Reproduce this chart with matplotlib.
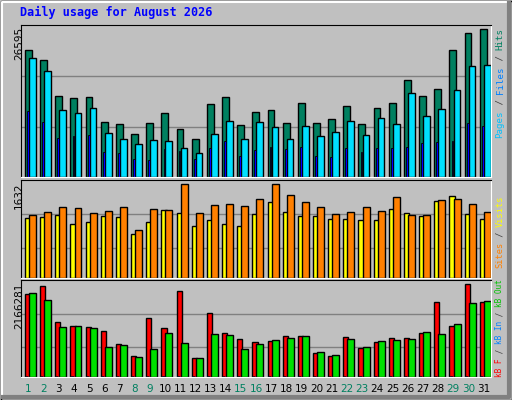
import numpy as np
import matplotlib
matplotlib.use("Agg")
import matplotlib.pyplot as plt
from matplotlib.patches import Rectangle

days = list(range(1, 32))
weekend = [1, 2, 8, 9, 15, 16, 22, 23, 29, 30]
# values read in pixel units, scaled to the labelled maxima
hits_px = [126,116,80,78,79,55,53,43,54,64,48,38,73,79,52,65,67,54,74,54,58,71,53,69,74,96,80,87,126,143,147]
files_px = [118,105,67,64,69,44,38,33,37,36,29,24,43,56,38,55,50,38,51,41,45,56,42,59,53,83,61,68,86,110,111]
pages_px = [66,55,39,41,42,25,24,18,17,28,26,18,29,36,21,27,30,28,30,21,20,29,25,29,29,30,34,35,36,54,51]
visits_px = [178,181,187,160,166,184,181,130,166,202,193,154,172,160,154,190,226,196,184,184,175,175,172,172,205,193,184,229,244,190,175]
sites_px = [187,196,211,208,193,199,211,142,205,202,277,193,217,220,214,235,277,247,226,211,190,196,211,199,241,187,187,232,235,220,196]
kbf_px = [247,268,163,151,148,136,97,61,175,145,253,55,190,130,112,103,106,121,121,70,61,118,85,103,115,115,130,223,151,274,223]
kbout_px = [250,229,148,151,145,88,94,58,82,130,100,55,127,124,82,97,109,115,121,73,64,112,88,106,109,112,133,127,157,220,226]
max_hits, max_visits, max_kb = 26595, 1632, 2166281

k1 = max_hits / 147.0
k2 = max_visits / 277.0
k3 = max_kb / 274.0
hits = np.array(hits_px) * k1
files = np.array(files_px) * k1
pages = np.array(pages_px) * k1
visits = np.array(visits_px) * k2
sites = np.array(sites_px) * k2
kbf = np.array(kbf_px) * k3
kbout = np.array(kbout_px) * k3
kbin = np.array([2] * 31) * k3

BG = "#C0C0C0"
fig = plt.figure(figsize=(5.12, 4.0), dpi=100, facecolor=BG)
W, H = 512, 400

def px_axes(x0, y0, x1, y1):
    return fig.add_axes([x0 / W, 1 - y1 / H, (x1 - x0) / W, (y1 - y0) / H])

def style(ax, ytop, grids):
    ax.set_facecolor(BG)
    ax.set_xlim(0, 31)
    ax.set_ylim(0, ytop)
    ax.set_xticks([]); ax.set_yticks([])
    for g in grids:
        ax.axhline(g, color="#808080", lw=1, zorder=0)
    ax.spines["left"].set_color("black")
    ax.spines["top"].set_color("black")
    ax.spines["right"].set_color("white")
    ax.spines["bottom"].set_color("white")

x = np.arange(31)
ax1 = px_axes(21, 25, 491, 177)
style(ax1, 151 * k1, [50 * k1, 100 * k1])
ax1.bar(x + 0.26, hits, 0.45, align="edge", color="#008060", edgecolor="black", lw=1)
ax1.bar(x + 0.53, files, 0.44, align="edge", color="#00E0FF", edgecolor="black", lw=1)
ax1.bar(x + 0.40, pages, 0.12, align="edge", color="#0000FF", edgecolor="black", lw=0.6)

ax2 = px_axes(21, 180, 491, 278)
style(ax2, 290 * k2, [90 * k2, 190 * k2])
ax2.bar(x + 0.26, visits, 0.34, align="edge", color="#FFFF00", edgecolor="black", lw=1)
ax2.bar(x + 0.53, sites, 0.46, align="edge", color="#FF8000", edgecolor="black", lw=1)

ax3 = px_axes(21, 280, 491, 377)
style(ax3, 287 * k3, [90 * k3, 187 * k3])
ax3.bar(x + 0.26, kbf, 0.34, align="edge", color="#FF0000", edgecolor="black", lw=1)
ax3.bar(x + 0.53, kbout, 0.46, align="edge", color="#00E000", edgecolor="black", lw=1)
ax3.bar(x + 0.30, kbin, 0.1, align="edge", color="#0000FF", edgecolor="black", lw=0.5)

fig.text(20 / W, 1 - 12 / H, "Daily usage for August 2026", color="#0000FF",
         family="DejaVu Sans Mono", weight="bold", fontsize=8.5, va="center")

for yp, lab in [(27, str(max_hits)), (182, str(max_visits)), (283, str(max_kb))]:
    fig.text(14 / W, 1 - yp / H, lab, rotation=90, rotation_mode="anchor",
             ha="right", va="top", fontsize=7.5, family="DejaVu Sans", color="black")

for d in days:
    fig.text((21 + (d - 0.5) * 470 / 31) / W, 1 - 389 / H, str(d), ha="center", va="center",
             fontsize=7.5, color="#008060" if d in weekend else "black")

def vlabel(ybottom, pieces, fs):
    adv = 0.602 * fs * 100 / 72
    y = ybottom
    for txt, c in pieces:
        fig.text(500 / W, 1 - y / H, txt, rotation=90, rotation_mode="anchor", ha="left",
                 va="center", color=c, fontsize=fs, family="DejaVu Sans Mono")
        y -= adv * len(txt)

vlabel(138, [("Pages", "#00C0FF"), (" / ", "#404040"), ("Files", "#0080FF"), (" / ", "#404040"), ("Hits", "#008060")], 6.6)
vlabel(268, [("Sites", "#FF8000"), (" / ", "#404040"), ("Visits", "#FFFF00")], 6.2)
vlabel(377, [("kB F", "#FF0000"), (" / ", "#404040"), ("kB In", "#0080FF"), (" / ", "#404040"), ("kB Out", "#00C000")], 5.6)

fig.patches.append(Rectangle((0.5 / W, 0.5 / H), 1 - 1 / W, 1 - 1 / H, transform=fig.transFigure,
                             fill=False, ec="black", lw=1))
fig.add_artist(plt.Line2D([2 / W, 2 / W, 1 - 3 / W], [3 / H, 1 - 2 / H, 1 - 2 / H], color="white", lw=1.5, transform=fig.transFigure))
fig.add_artist(plt.Line2D([3 / W, 1 - 3 / W, 1 - 3 / W], [3 / H, 3 / H, 1 - 3 / H], color="#808080", lw=3, transform=fig.transFigure))

fig.savefig("out.png", dpi=100, facecolor=BG)
